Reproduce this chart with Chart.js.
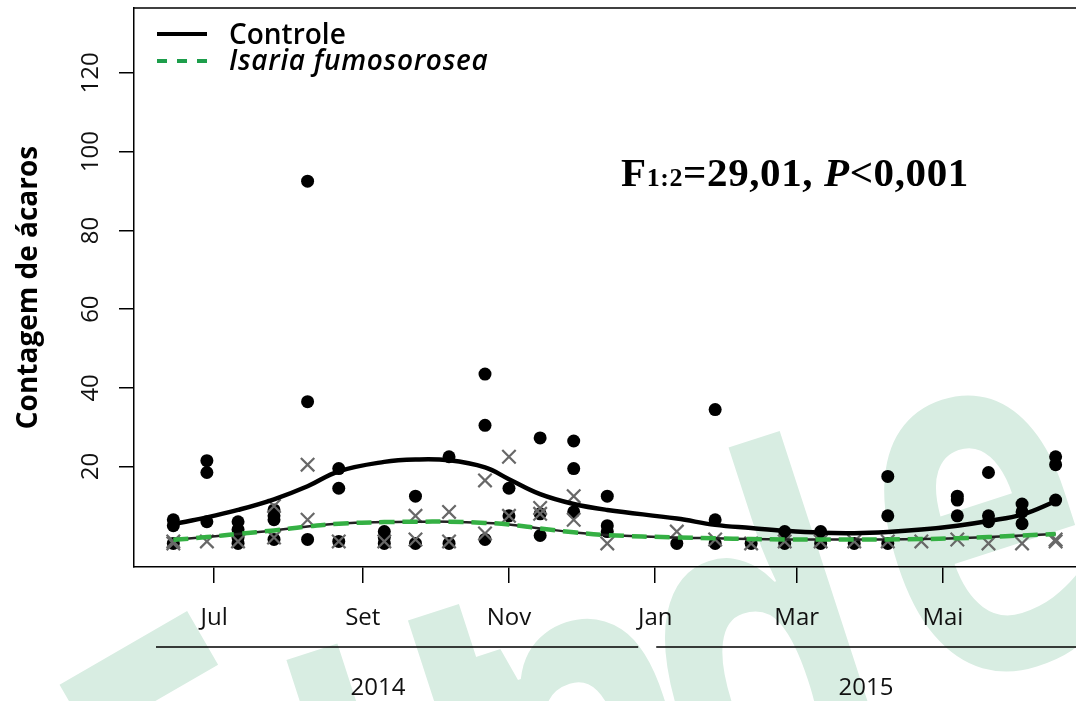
<!DOCTYPE html>
<html><head><meta charset="utf-8">
<script src="https://cdn.jsdelivr.net/npm/chart.js@4.4.1/dist/chart.umd.min.js"></script>
<style>html,body{margin:0;padding:0;background:#fff;overflow:hidden}#wrap{width:1076px;height:701px;position:relative}</style>
</head><body><div id="wrap"><canvas id="c"></canvas></div>
<script>
// Day offsets are counted from 1 Jul 2014
const monthDays = [0, 62, 123, 184, 243, 304];
const monthLabels = ['Jul', 'Set', 'Nov', 'Jan', 'Mar', 'Mai'];
const yTicks = [20, 40, 60, 80, 100, 120];
const yearLabels = ['2014', '2015'];
const sampleDays = [-17,-3,10,25,39,52,71,84,98,113,123,136,150,164,193,209,224,238,253,267,281,295,310,323,337,351];
const controleCurve = [5.4,7.1,9.0,11.7,15.0,18.8,21.2,21.8,21.6,19.8,16.8,13.0,10.5,9.0,6.8,5.2,4.4,3.7,3.2,3.1,3.4,4.0,5.0,6.2,7.8,11.2];
const isariaCurve = [1.4,2.1,2.9,3.8,4.8,5.5,5.9,6.0,6.0,5.7,5.3,4.3,3.3,2.6,2.0,1.8,1.6,1.5,1.5,1.5,1.5,1.6,1.8,2.1,2.5,2.9];
const controleCounts = [[6.5,5,0.5],[21.5,18.5,6],[6,4,2,0.5],[9,7.5,6.5,1.5],[92.5,36.5,1.5],[19.5,14.5,1],[3.5,2,0.5],[12.5,0.5],[22.5,0.5],[43.5,30.5,1.5],[14.5,7.5],[27.3,8,2.5],[26.5,19.5,8.5],[12.5,5,3.5],[0.5],[34.5,6.5,0.5],[0.5],[3.5,0.5],[3.5,0.5],[0.5],[17.5,7.5,0.5],[],[12.5,11.5,7.5],[18.5,7.5,6],[10.5,8.5,5.5],[22.5,20.5,11.5]];
const isariaCounts = [[1,0.5],[1],[1],[10,2],[20.5,6.5],[1],[1],[7.5,1.5],[8.5,1],[16.5,3],[22.5,7.5],[9.5,8],[12.5,6.5],[0.5],[3.5],[1.5],[0.5],[1],[1],[1],[1],[1],[1.5],[0.5],[0.5],[1.5,1]];

const GREEN = '#35b044';
const toPts = (counts) => sampleDays.flatMap((d, i) => counts[i].map(v => ({x: d, y: v})));
const curvePts = (vals) => sampleDays.map((d, i) => ({x: d, y: vals[i]}));

// background watermark letters (decoration only)
const watermark = [['F', 210, 1010], ['u', 345, 928], ['n', 519, 930], ['d', 707, 854], ['e', 924, 698], ['c', 1129, 631]];

const decor = {
  id: 'decor',
  beforeDraw(chart) {
    const ctx = chart.ctx;
    ctx.save();
    ctx.fillStyle = '#d8ede2';
    ctx.font = 'bold 500px "Open Sans"';
    const a = -18 * Math.PI / 180;
    watermark.forEach(([ch, x, y]) => {
      ctx.save();
      ctx.translate(x, y);
      ctx.rotate(ch === 'F' ? -30 * Math.PI / 180 : a);
      ctx.scale(0.72, 1);
      ctx.fillText(ch, 0, 0);
      ctx.restore();
    });
    ctx.restore();
  },
  afterDraw(chart) {
    const ctx = chart.ctx;
    const ca = chart.chartArea;
    const xs = chart.scales.x;
    ctx.save();
    ctx.strokeStyle = '#000';
    ctx.lineWidth = 1.5;
    ctx.beginPath(); ctx.moveTo(ca.left, ca.top); ctx.lineTo(ca.right, ca.top); ctx.stroke();
    // year lines + labels
    const yLine = 647;
    const jan = xs.getPixelForValue(monthDays[3]);
    ctx.beginPath();
    ctx.moveTo(156, yLine); ctx.lineTo(jan - 17, yLine);
    ctx.moveTo(jan + 1, yLine); ctx.lineTo(ca.right, yLine);
    ctx.stroke();
    ctx.fillStyle = '#111';
    ctx.font = '24px "Open Sans"';
    ctx.textAlign = 'center'; ctx.textBaseline = 'middle';
    ctx.fillText(yearLabels[0], 378, 688);
    ctx.fillText(yearLabels[1], 866, 688);
    // legend
    ctx.textAlign = 'left';
    ctx.lineWidth = 4;
    ctx.strokeStyle = '#000';
    ctx.beginPath(); ctx.moveTo(157, 34); ctx.lineTo(207, 34); ctx.stroke();
    ctx.strokeStyle = '#1e9e4c';
    ctx.setLineDash([10, 10]);
    ctx.beginPath(); ctx.moveTo(157, 61); ctx.lineTo(207, 61); ctx.stroke();
    ctx.setLineDash([]);
    ctx.fillStyle = '#000';
    ctx.font = '600 28px "Open Sans"';
    ctx.fillText(chart.data.datasets[2].label, 229, 36);
    ctx.font = 'italic 600 28px "Open Sans"';
    ctx.letterSpacing = '0.7px';
    ctx.fillText(chart.data.datasets[0].label, 229, 62);
    // annotation
    ctx.textBaseline = 'alphabetic';
    ctx.letterSpacing = '0.6px';
    let x = 621; const by = 186;
    const part = (t, f) => { ctx.font = f; ctx.fillText(t, x, by); x += ctx.measureText(t).width; };
    part('F', 'bold 41px "Liberation Serif"');
    part('1:2', 'bold 26px "Liberation Serif"');
    part('=29,01, ', 'bold 41px "Liberation Serif"');
    part('P', 'bold italic 41px "Liberation Serif"');
    part('<0,001', 'bold 41px "Liberation Serif"');
    ctx.restore();
  }
};

new Chart(document.getElementById('c'), {
  data: {
    datasets: [
      { type: 'line', label: 'Isaria fumosorosea', data: curvePts(isariaCurve), borderColor: GREEN, borderWidth: 4.5, borderDash: [15, 8], pointRadius: 0, tension: 0.4, order: 0 },
      { type: 'line', label: 'Isaria base', data: curvePts(isariaCurve), borderColor: '#222', borderWidth: 2.5, pointRadius: 0, tension: 0.4, order: 1 },
      { type: 'line', label: 'Controle', data: curvePts(controleCurve), borderColor: '#000', borderWidth: 4.5, pointRadius: 0, tension: 0.4, order: 2 },
      { type: 'scatter', label: 'Isaria pts', data: toPts(isariaCounts), pointStyle: 'crossRot', pointRadius: 9.5, borderColor: '#686868', borderWidth: 2.2, backgroundColor: 'transparent', order: 3 },
      { type: 'scatter', label: 'Controle pts', data: toPts(controleCounts), pointStyle: 'circle', pointRadius: 6.5, borderColor: '#000', backgroundColor: '#000', borderWidth: 0, order: 4 }
    ]
  },
  options: {
    responsive: true, maintainAspectRatio: false, animation: false,
    layout: { autoPadding: false, padding: { top: 8, left: 0, right: 0, bottom: 0 } },
    plugins: { legend: { display: false }, tooltip: { enabled: false } },
    scales: {
      x: {
        type: 'linear', min: -33.4, max: 359.5,
        afterBuildTicks: (s) => { s.ticks = monthDays.map(v => ({ value: v })); },
        afterFit: (s) => { s.height = 134; s.paddingLeft = 0; s.paddingRight = 0; },
        ticks: { callback: (v) => monthLabels[monthDays.indexOf(v)], color: '#111', font: { family: 'Open Sans', size: 24 }, padding: 21, autoSkip: false, maxRotation: 0 },
        grid: { drawOnChartArea: false, drawTicks: true, tickLength: 16, color: '#000', lineWidth: 1.5 },
        border: { display: true, color: '#000', width: 1.5 }
      },
      y: {
        type: 'linear', min: -5.5, max: 136.5,
        afterBuildTicks: (s) => { s.ticks = yTicks.map(v => ({ value: v })); },
        afterFit: (s) => { s.width = 134; s.paddingTop = 0; s.paddingBottom = 0; },
        ticks: { color: '#111', font: { family: 'Open Sans', size: 24 }, minRotation: 90, maxRotation: 90, crossAlign: 'center', padding: 7 },
        grid: { drawOnChartArea: false, drawTicks: true, tickLength: 15, color: '#000', lineWidth: 1.5 },
        border: { display: true, color: '#000', width: 1.5 },
        title: { display: true, text: 'Contagem de ácaros', color: '#000', font: { family: 'Open Sans', size: 28, weight: 'bold' }, padding: { top: 12, bottom: 0 } }
      }
    }
  },
  plugins: [decor]
});
</script>
</body></html>
